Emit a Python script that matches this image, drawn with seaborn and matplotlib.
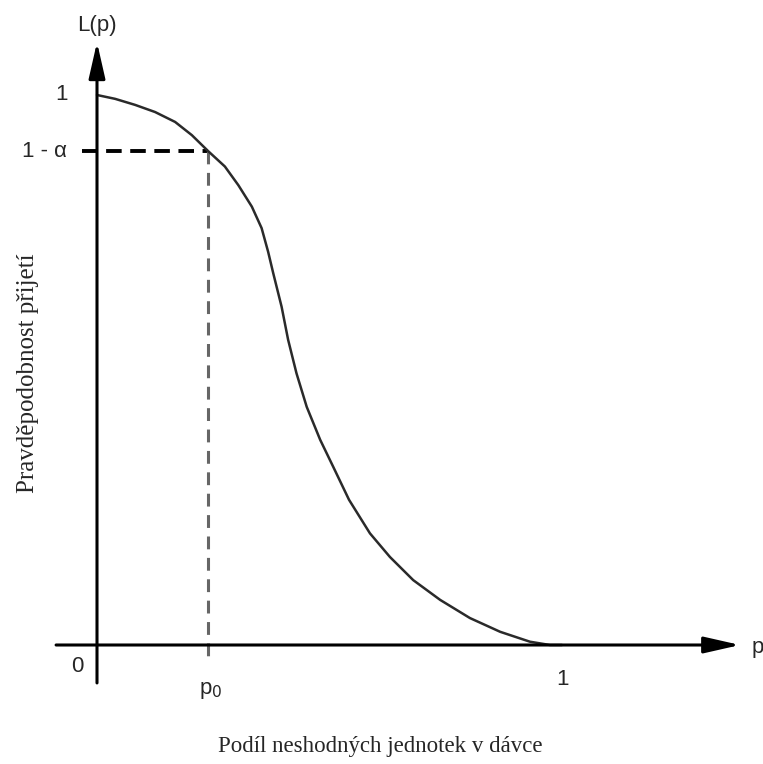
import numpy as np
import pandas as pd
import matplotlib
matplotlib.use("Agg")
import matplotlib.pyplot as plt
import seaborn as sns

# OC krivka
p_vals = [0.0, 0.039, 0.082, 0.125, 0.168, 0.204, 0.239, 0.275, 0.304, 0.333,
          0.354, 0.368, 0.379, 0.397, 0.411, 0.429, 0.451, 0.480, 0.508, 0.542,
          0.587, 0.630, 0.680, 0.738, 0.802, 0.867, 0.931, 0.974, 1.0]
L_vals = [1.0, 0.993, 0.982, 0.969, 0.951, 0.927, 0.898, 0.870, 0.836, 0.797,
          0.758, 0.715, 0.676, 0.615, 0.555, 0.494, 0.433, 0.373, 0.324, 0.264,
          0.203, 0.160, 0.118, 0.082, 0.049, 0.024, 0.006, 0.0, 0.0]
p0 = 0.239
one_minus_alpha = 0.898

x_tick_labels = ["0", r"p$_0$", "1"]
y_tick_labels = ["1", "1 - α"]

df = pd.DataFrame({"p": p_vals, "L": L_vals})

sns.set_style("white")
plt.rcParams['font.family'] = ['Liberation Sans', 'DejaVu Sans']

fig = plt.figure(figsize=(7.63, 7.64), dpi=100)
ax = fig.add_axes([0, 0, 1, 1])
ax.set_xlim(-97 / 465, 666 / 465)
ax.set_ylim(-119 / 550, 645 / 550)
ax.axis("off")

# osy se sipkami
sipka = "-|>,head_length=2.2,head_width=0.5"
ax.annotate("", xy=(1.383, 0), xytext=(-0.088, 0),
            arrowprops=dict(arrowstyle=sipka, color="black", lw=2.2,
                            shrinkA=0, shrinkB=0))
ax.annotate("", xy=(0, 1.096), xytext=(0, -0.069),
            arrowprops=dict(arrowstyle=sipka, color="black", lw=2.2,
                            shrinkA=0, shrinkB=0))

# pomocne carkovane cary
ax.plot([-0.032, p0], [one_minus_alpha, one_minus_alpha], color="black",
        lw=2.8, ls=(0, (4.0, 2.2)))
ax.plot([p0, p0], [one_minus_alpha, -0.027], color="#666666",
        lw=2.2, ls=(0, (4.2, 2.8)))

sns.lineplot(data=df, x="p", y="L", ax=ax, color="#2a2a2a", lw=1.8)

# popisky
ax.text(0, 1.127, "L(p)", fontsize=16, ha="center", va="center")
ax.text(-0.077, 1.0, y_tick_labels[0], fontsize=16, ha="center", va="center")
ax.text(-0.064, one_minus_alpha, y_tick_labels[1], fontsize=16, ha="right", va="center")
ax.text(-0.043, -0.04, x_tick_labels[0], fontsize=16, ha="center", va="center")
ax.text(p0 + 0.006, -0.082, x_tick_labels[1], fontsize=16, ha="center", va="center")
ax.text(1.0, -0.062, x_tick_labels[2], fontsize=16, ha="center", va="center")
ax.text(1.408, -0.005, "p", fontsize=16, ha="left", va="center")

ax.text(-0.148, 0.495, "Pravděpodobnost přijetí", fontsize=18, rotation=90,
        ha="center", va="center", family=["Liberation Serif", "DejaVu Serif"])
ax.text(0.609, -0.185, "Podíl neshodných jednotek v dávce", fontsize=16.5,
        ha="center", va="center", family=["Liberation Serif", "DejaVu Serif"])

fig.savefig("out.png", dpi=100)
